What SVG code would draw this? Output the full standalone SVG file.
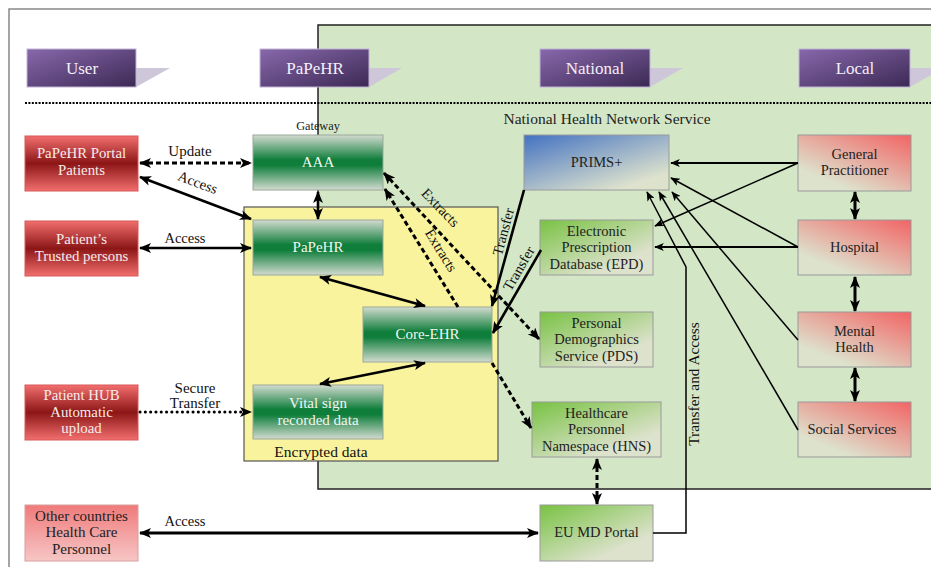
<svg xmlns="http://www.w3.org/2000/svg" width="931" height="567" viewBox="0 0 931 567">
<style>
text{font-family:"Liberation Serif","DejaVu Serif",serif;}
.tab{fill:url(#tabG);stroke:#c2b3d6;stroke-width:1}
.tri{fill:#cdc7d9}
.tabt{fill:#f4f0f8;font-size:17px;text-anchor:middle}
.red{fill:url(#redG);stroke:#d85858;stroke-width:1}
.redt{fill:#f7ecec;font-size:14.8px;text-anchor:middle}
.grn{fill:url(#grnG);stroke:#9aa79a;stroke-width:1}
.grnt{fill:#f2f6f2;font-size:15px;text-anchor:middle}
.prm{fill:url(#bluG);stroke:#9a9a9a;stroke-width:1}
.lg{fill:url(#lgG);stroke:#9a9a9a;stroke-width:1}
.loc{fill:url(#pkG);stroke:#9a9a9a;stroke-width:1}
.oth{fill:url(#othG);stroke:#d8a0a0;stroke-width:1}
.dk{fill:#222;font-size:14.5px;text-anchor:middle}
.lbl{fill:#111;font-size:14.5px;text-anchor:middle}
.c{fill:none;stroke:#000}
.thick{stroke-width:2.6}
.thin{stroke-width:1.5}
.dash{stroke-dasharray:5,3;stroke-width:3}
</style>
<defs>
<linearGradient id="tabG" x1="0" y1="0" x2="1" y2="1"><stop offset="0" stop-color="#8868ac"/><stop offset="1" stop-color="#3c2954"/></linearGradient>
<linearGradient id="redG" x1="0" y1="0" x2="0" y2="1"><stop offset="0" stop-color="#f26e6e"/><stop offset="0.5" stop-color="#8c1616"/><stop offset="1" stop-color="#f26e6e"/></linearGradient>
<linearGradient id="grnG" x1="0" y1="0" x2="0" y2="1"><stop offset="0" stop-color="#d3dbd0"/><stop offset="0.45" stop-color="#0f7e3b"/><stop offset="0.55" stop-color="#0f7e3b"/><stop offset="1" stop-color="#d3dbd0"/></linearGradient>
<linearGradient id="bluG" x1="0" y1="0" x2="0.75" y2="0.9"><stop offset="0" stop-color="#4372c2"/><stop offset="1" stop-color="#dde2cd"/></linearGradient>
<linearGradient id="lgG" x1="0" y1="0" x2="0.7" y2="0.8"><stop offset="0" stop-color="#78c242"/><stop offset="1" stop-color="#dde2cd"/></linearGradient>
<linearGradient id="pkG" x1="1" y1="0" x2="0.3" y2="0.85"><stop offset="0" stop-color="#f26464"/><stop offset="1" stop-color="#dde2cd"/></linearGradient>
<linearGradient id="othG" x1="0" y1="0" x2="0" y2="1"><stop offset="0" stop-color="#f07a7a"/><stop offset="1" stop-color="#f7c6c6"/></linearGradient>
<marker id="ah" viewBox="0 0 12 10" refX="11" refY="5" markerWidth="13" markerHeight="10" markerUnits="userSpaceOnUse" orient="auto-start-reverse"><path d="M0,0 L12,5 L0,10 L3,5 z" fill="#000"/></marker>
<marker id="as" viewBox="0 0 12 10" refX="11" refY="5" markerWidth="11" markerHeight="8" markerUnits="userSpaceOnUse" orient="auto-start-reverse"><path d="M0,0 L12,5 L0,10 L3,5 z" fill="#000"/></marker>
</defs>
<rect x="0" y="0" width="931" height="567" fill="#fff"/>
<rect x="9" y="9" width="940" height="580" fill="none" stroke="#888" stroke-width="1.5"/>
<rect id="nhns" x="318" y="25" width="630" height="464" fill="#d3e7c7" stroke="#222" stroke-width="1.5"/>
<text x="607" y="124" class="dk" style="font-size:15.5px">National Health Network Service</text>
<line x1="25" y1="103" x2="931" y2="103" stroke="#000" stroke-width="2" stroke-dasharray="2,1.4"/>

<g id="tabs">
<polygon class="tri" points="136,68 170,68 136,87"/><rect class="tab" x="27" y="49" width="109" height="38"/><text class="tabt" x="82" y="74">User</text>
<polygon class="tri" points="369,68 402,68 369,87"/><rect class="tab" x="260" y="49" width="109" height="38"/><text class="tabt" x="315" y="74">PaPeHR</text>
<polygon class="tri" points="650,68 683,68 650,87"/><rect class="tab" x="540" y="49" width="110" height="38"/><text class="tabt" x="595" y="74">National</text>
<polygon class="tri" points="910,68 943,68 910,87"/><rect class="tab" x="799" y="49" width="111" height="38"/><text class="tabt" x="855" y="74">Local</text>
</g>

<g id="encrypted">
<rect x="244" y="207" width="254" height="254" fill="#f8f39c" stroke="#555" stroke-width="1.2"/>
<text x="321" y="457" class="lbl" style="font-size:15.5px">Encrypted data</text>
</g>

<g id="portal"><rect class="red" x="25" y="136" width="113" height="55"/><text class="redt" x="81.5" y="158">PaPeHR Portal</text><text class="redt" x="81.5" y="175">Patients</text></g>
<g id="trusted"><rect class="red" x="25" y="221" width="113" height="55"/><text class="redt" x="81.5" y="244">Patient’s</text><text class="redt" x="81.5" y="261">Trusted persons</text></g>
<g id="hub"><rect class="red" x="25" y="385" width="113" height="55"/><text class="redt" x="81.5" y="400">Patient HUB</text><text class="redt" x="81.5" y="417">Automatic</text><text class="redt" x="81.5" y="433">upload</text></g>
<g id="other"><rect class="oth" x="25" y="505" width="113" height="56"/><text class="dk" x="81.5" y="521" style="font-size:15px">Other countries</text><text class="dk" x="81.5" y="537" style="font-size:15px">Health Care</text><text class="dk" x="81.5" y="554" style="font-size:15px">Personnel</text></g>

<g id="aaa"><text x="318" y="130" class="dk" style="font-size:12.3px">Gateway</text><rect class="grn" x="253" y="135" width="130" height="55"/><text class="grnt" x="318" y="167">AAA</text></g>
<g id="papehr"><rect class="grn" x="253" y="220" width="130" height="55"/><text class="grnt" x="318" y="252">PaPeHR</text></g>
<g id="core"><rect class="grn" x="363" y="307" width="129" height="55"/><text class="grnt" x="427.5" y="339">Core-EHR</text></g>
<g id="vital"><rect class="grn" x="253" y="385" width="130" height="54"/><text class="grnt" x="318" y="408">Vital sign</text><text class="grnt" x="318" y="425">recorded data</text></g>

<g id="prims"><rect class="prm" x="524" y="135" width="145" height="55"/><text class="dk" x="596.5" y="167">PRIMS+</text></g>
<g id="epd"><rect class="lg" x="540" y="220" width="113" height="55"/><text class="dk" x="596.5" y="236">Electronic</text><text class="dk" x="596.5" y="252">Prescription</text><text class="dk" x="596.5" y="269">Database (EPD)</text></g>
<g id="pds"><rect class="lg" x="540" y="312" width="113" height="55"/><text class="dk" x="596.5" y="328">Personal</text><text class="dk" x="596.5" y="344">Demographics</text><text class="dk" x="596.5" y="361">Service (PDS)</text></g>
<g id="hns"><rect class="lg" x="532" y="402" width="129" height="55"/><text class="dk" x="596.5" y="418">Healthcare</text><text class="dk" x="596.5" y="434">Personnel</text><text class="dk" x="596.5" y="451">Namespace (HNS)</text></g>
<g id="eumd"><rect class="lg" x="540" y="505" width="113" height="56"/><text class="dk" x="596.5" y="537">EU MD Portal</text></g>

<g id="gp"><rect class="loc" x="798" y="135" width="113" height="56"/><text class="dk" x="854.5" y="159">General</text><text class="dk" x="854.5" y="175">Practitioner</text></g>
<g id="hospital"><rect class="loc" x="798" y="220" width="113" height="55"/><text class="dk" x="854.5" y="252">Hospital</text></g>
<g id="mental"><rect class="loc" x="798" y="312" width="113" height="55"/><text class="dk" x="854.5" y="336">Mental</text><text class="dk" x="854.5" y="352">Health</text></g>
<g id="social"><rect class="loc" x="798" y="402" width="113" height="55"/><text class="dk" x="852" y="434">Social Services</text></g>

<g id="connectors">
<path class="c dash" d="M140,163 L251,163" marker-start="url(#ah)" marker-end="url(#ah)"/>
<path class="c thick" d="M140,177 L251,219" marker-start="url(#ah)" marker-end="url(#ah)"/>
<path class="c thick" d="M140,248 L251,248" marker-start="url(#ah)" marker-end="url(#ah)"/>
<path class="c" d="M140,412 L251,412" stroke-width="3" stroke-linecap="round" stroke-dasharray="0.1,5.2" marker-end="url(#ah)"/>
<path class="c thick" d="M318,192 L318,219" marker-start="url(#ah)" marker-end="url(#ah)"/>
<path class="c thick" d="M320,277 L425,306" marker-start="url(#ah)" marker-end="url(#ah)"/>
<path class="c thick" d="M425,363 L320,384" marker-start="url(#ah)" marker-end="url(#ah)"/>
<path class="c dash" d="M458,307 L385,189" marker-end="url(#ah)"/>
<path class="c dash" d="M384,173 L539,339" stroke-width="2.6" marker-start="url(#ah)" marker-end="url(#ah)"/>
<path class="c thick" d="M524,190 L492,306" marker-end="url(#ah)"/>
<path class="c thick" d="M541,250 L493,333" marker-end="url(#ah)"/>
<path class="c dash" d="M492,363 L531,428" marker-end="url(#ah)"/>
<path class="c dash" d="M597,459 L597,504" marker-start="url(#ah)" marker-end="url(#ah)"/>
<path class="c" d="M140,533 L538,533" stroke-width="3" marker-start="url(#ah)" marker-end="url(#ah)"/>
<path class="c thin" d="M653,533 L686,533 L686,267 L647,192" marker-end="url(#as)"/>
<path class="c" d="M798,163 L671,163" stroke-width="2" marker-end="url(#as)"/>
<path class="c thin" d="M798,163 L655,226" marker-end="url(#as)"/>
<path class="c thin" d="M798,247 L671,178" marker-end="url(#as)"/>
<path class="c" d="M798,247 L655,247" stroke-width="2" marker-end="url(#as)"/>
<path class="c thin" d="M798,340 L672,192" marker-end="url(#as)"/>
<path class="c thin" d="M798,430 L659,192" marker-end="url(#as)"/>
<path class="c" d="M855,192 L855,219" stroke-width="3" marker-start="url(#ah)" marker-end="url(#ah)"/>
<path class="c" d="M855,277 L855,311" stroke-width="3" marker-start="url(#ah)" marker-end="url(#ah)"/>
<path class="c" d="M855,368 L855,401" stroke-width="3" marker-start="url(#ah)" marker-end="url(#ah)"/>
<text class="lbl" x="190" y="156" style="font-size:15px">Update</text>
<text class="lbl" x="196" y="187" transform="rotate(20.7 196 187)">Access</text>
<text class="lbl" x="185" y="243">Access</text>
<text class="lbl" x="195" y="393" style="font-size:15px">Secure</text>
<text class="lbl" x="195" y="408" style="font-size:15px">Transfer</text>
<text class="lbl" x="185" y="526">Access</text>
<text class="lbl" x="437" y="211" transform="rotate(46 437 211)">Extracts</text>
<text class="lbl" x="437" y="253" transform="rotate(58 437 253)">Extracts</text>
<text class="lbl" x="508" y="233" transform="rotate(-75 508 233)">Transfer</text>
<text class="lbl" x="523" y="271" transform="rotate(-60 523 271)">Transfer</text>
<text class="lbl" x="699" y="384" transform="rotate(-90 699 384)" style="font-size:15.3px">Transfer and Access</text>
</g>
</svg>
